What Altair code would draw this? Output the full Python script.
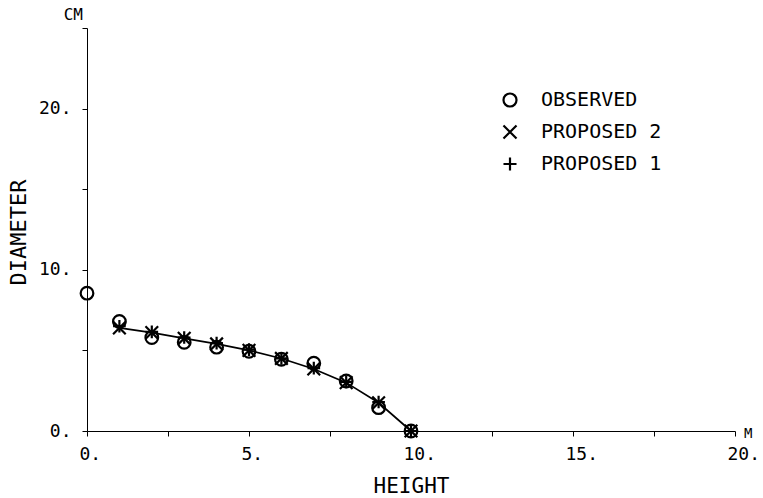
import altair as alt
import pandas as pd

heights = [0, 1, 2, 3, 4, 5, 6, 7, 8, 9, 10]
observed = [8.55, 6.8, 5.8, 5.5, 5.2, 4.95, 4.45, 4.2, 3.1, 1.45, 0.0]
prop_heights = [1, 2, 3, 4, 5, 6, 7, 8, 9, 10]
proposed2 = [6.4, 6.1, 5.75, 5.4, 5.0, 4.5, 3.85, 3.0, 1.75, 0.0]
proposed1 = [6.5, 6.15, 5.8, 5.45, 5.05, 4.5, 3.9, 3.05, 1.8, 0.0]

series_names = ["OBSERVED", "PROPOSED 2", "PROPOSED 1"]
x_ticks = [0, 2.5, 5, 7.5, 10, 12.5, 15, 17.5, 20]
y_ticks = [0, 5, 10, 15, 20, 25]

FONT = "DejaVu Sans Mono"

rows = []
for h, v in zip(heights, observed):
    rows.append({"h": h, "d": v, "series": "OBSERVED"})
for h, v in zip(prop_heights, proposed2):
    rows.append({"h": h, "d": v, "series": "PROPOSED 2"})
for h, v in zip(prop_heights, proposed1):
    rows.append({"h": h, "d": v, "series": "PROPOSED 1"})
df = pd.DataFrame(rows)
line_df = pd.DataFrame({"h": prop_heights, "d": proposed2})

X_PATH = "M-1,-1L1,1M-1,1L1,-1"
PLUS_PATH = "M-1,0L1,0M0,-1L0,1"

xs = alt.Scale(domain=[0, 20], nice=False)
ys = alt.Scale(domain=[0, 25], nice=False)

x_axis = alt.Axis(
    values=x_ticks, grid=False, domainColor="black", tickColor="black",
    tickSize=5, labelFont=FONT, labelFontSize=18, labelColor="black",
    labelExpr="datum.value % 5 == 0 ? datum.value + '.' : ''",
    labelAlign="left", labelOffset=-8,
    title="HEIGHT", titleFont=FONT, titleFontSize=21, titleFontWeight="normal",
    titleColor="black", labelPadding=9, labelFlush=False,
    titleBaseline="alphabetic", titleY=61,
)
y_axis = alt.Axis(
    values=y_ticks, grid=False, domainColor="black", tickColor="black",
    tickSize=5, labelFont=FONT, labelFontSize=18, labelColor="black",
    labelExpr="datum.value % 10 == 0 ? datum.value + '.' : ''",
    title="DIAMETER", titleFont=FONT, titleFontSize=22, titleFontWeight="normal",
    titleColor="black", labelPadding=11, labelFlush=False,
    titleBaseline="alphabetic", titleAngle=270, titleX=-62, titleY=204, titleAlign="center",
)

line = alt.Chart(line_df).mark_line(color="black", strokeWidth=1.7).encode(
    x=alt.X("h:Q", scale=xs, axis=x_axis),
    y=alt.Y("d:Q", scale=ys, axis=y_axis),
)

points = alt.Chart(df).mark_point(filled=False, size=160, strokeWidth=2.2, opacity=1).encode(
    x=alt.X("h:Q", scale=xs),
    y=alt.Y("d:Q", scale=ys),
    shape=alt.Shape("series:N", scale=alt.Scale(domain=series_names, range=["circle", X_PATH, PLUS_PATH]),
                    legend=alt.Legend(title=None, orient="none", legendX=413, legendY=62,
                                      labelFont=FONT, labelFontSize=20, labelColor="black",
                                      symbolSize=170, symbolStrokeWidth=2.2, symbolStrokeColor="black",
                                      symbolOpacity=1,
                                      symbolFillColor="transparent", rowPadding=10, labelOffset=21)),
    color=alt.value("black"),
)

cm_df = pd.DataFrame({"h": [0], "d": [25], "t": ["CM"]})
cm = alt.Chart(cm_df).mark_text(font=FONT, fontSize=16, color="black", align="right", baseline="bottom", dx=-4, dy=-5).encode(
    x=alt.X("h:Q", scale=xs), y=alt.Y("d:Q", scale=ys), text="t:N")
m_df = pd.DataFrame({"h": [20], "d": [0], "t": ["M"]})
m = alt.Chart(m_df).mark_text(font=FONT, fontSize=14, color="black", align="left", baseline="middle", dx=9, dy=3).encode(
    x=alt.X("h:Q", scale=xs), y=alt.Y("d:Q", scale=ys), text="t:N")

chart = alt.layer(line, points, cm, m).properties(
    width=648, height=403,
    autosize=alt.AutoSizeParams(type="none"),
    padding={"left": 87, "top": 28, "right": 28, "bottom": 67},
    background="white",
).configure_view(stroke=None)

chart.save("out.html", embed_options={"renderer": "svg", "actions": False})
